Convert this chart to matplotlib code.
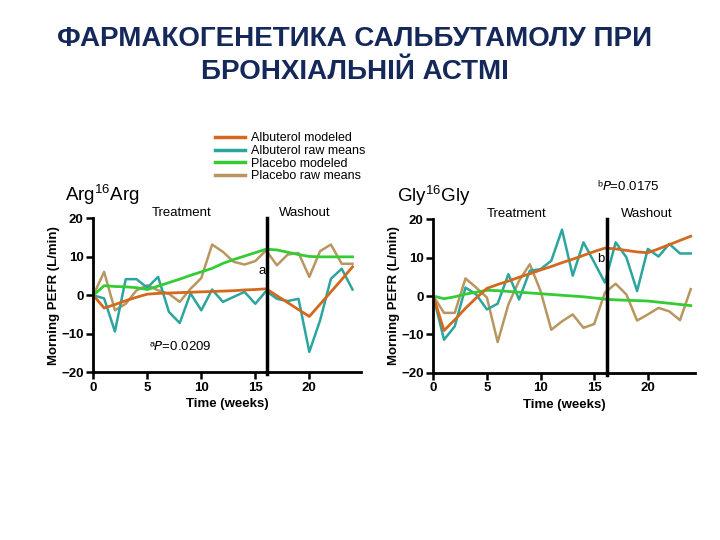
import matplotlib.pyplot as plt

plt.rcParams['font.family'] = ['Liberation Sans', 'DejaVu Sans']

weeks = list(range(25))

# Arg16Arg
arg_alb_raw = [0, -0.8, -9.4, 4.2, 4.2, 2.0, 4.8, -4.3, -7.2, 0.5, -3.9, 1.5, -1.7,
               -0.4, 0.9, -2.2, 1.1, -0.9, -1.5, -0.9, -14.7, -6.5, 4.3, 6.9, 1.5]
arg_pla_raw = [0, 6.1, -3.9, -2.2, 1.3, 2.6, 1.3, 0.4, -1.7, 1.7, 4.5, 13.2, 11.3,
               8.7, 8.0, 8.9, 11.7, 7.8, 10.6, 11.0, 4.8, 11.5, 13.2, 8.2, 8.2]
arg_alb_mod = [0, -3.3, -2.4, -1.4, -0.5, 0.3, 0.5, 0.6, 0.7, 0.8, 0.9, 1.0, 1.1,
               1.2, 1.4, 1.5, 1.7, -0.1, -1.9, -3.7, -5.5, -2.3, 0.9, 4.1, 7.4]
arg_pla_mod = [0, 2.5, 2.3, 2.2, 2.0, 1.5, 2.4, 3.3, 4.2, 5.2, 6.1, 7.0, 8.3,
               9.3, 10.2, 11.1, 12.0, 11.8, 11.2, 10.6, 10.1, 10.0, 10.0, 10.0, 10.0]

# Gly16Gly
gly_alb_raw = [0, -11.4, -7.9, 2.2, 0.4, -3.5, -2.0, 5.7, -0.9, 6.6, 7.0, 9.2, 17.3,
               5.3, 14.0, 8.8, 3.5, 14.0, 10.1, 1.3, 12.3, 10.3, 13.6, 11.1, 11.1]
gly_pla_raw = [0, -4.4, -4.4, 4.6, 2.2, -0.4, -12.0, -2.2, 4.0, 8.3, 1.3, -8.8, -6.6,
               -4.8, -8.3, -7.3, 0.9, 3.2, 0.4, -6.4, -4.8, -3.1, -4.0, -6.3, 1.8]
gly_alb_mod = [0, -9.0, -6.2, -3.2, -0.5, 2.0, 3.0, 3.9, 4.9, 5.8, 6.8, 7.7, 8.7,
               9.6, 10.6, 11.6, 12.5, 12.3, 11.9, 11.5, 11.3, 12.3, 13.4, 14.5, 15.6]
gly_pla_mod = [0, -0.7, -0.2, 0.5, 1.0, 1.5, 1.4, 1.2, 1.0, 0.8, 0.6, 0.4, 0.2,
               0.0, -0.2, -0.5, -0.8, -1.0, -1.1, -1.2, -1.3, -1.6, -1.9, -2.2, -2.5]

washout_start = [16.1, 16.2]
labels = ["Albuterol modeled", "Albuterol raw means", "Placebo modeled", "Placebo raw means"]
colors = ["#D2691E", "#2BA59E", "#33CC33", "#B99660"]

fig = plt.figure(figsize=(7.2, 5.4), dpi=100)
fig.text(0.493, 0.928, "ФАРМАКОГЕНЕТИКА САЛЬБУТАМОЛУ ПРИ", ha='center', va='center',
         fontsize=20, fontweight='bold', color='#14285A')
fig.text(0.493, 0.866, "БРОНХІАЛЬНІЙ АСТМІ", ha='center', va='center',
         fontsize=20, fontweight='bold', color='#14285A')

ax1 = fig.add_axes([0.1296, 0.3106, 0.372, 0.285])
ax2 = fig.add_axes([0.6018, 0.3098, 0.3635, 0.284])

panels = [
    (ax1, "Arg$^{\\mathregular{16}}$Arg", [arg_alb_mod, arg_alb_raw, arg_pla_mod, arg_pla_raw],
     24.8, -2.6, 8.2, 19.6),
    (ax2, "Gly$^{\\mathregular{16}}$Gly", [gly_alb_mod, gly_alb_raw, gly_pla_mod, gly_pla_raw],
     24.4, -3.4, 7.8, 19.9),
]

handles = []
for i, (ax, name, series, xmax, name_x, treat_x, wash_x) in enumerate(panels):
    order = [3, 1, 2, 0]
    for k in order:
        lw = 2.0 if k in (0, 2) else 1.8
        ln, = ax.plot(weeks, series[k], color=colors[k], lw=lw, label=labels[k])
        if i == 0:
            handles.append((k, ln))
    ax.plot([washout_start[i]] * 2, [-20.5, 20], color='black', lw=2.5, clip_on=False)
    ax.set_xlim(0, xmax)
    ax.set_ylim(-20, 20)
    ax.set_xticks([0, 5, 10, 15, 20])
    ax.set_yticks([-20, -10, 0, 10, 20])
    ax.set_yticklabels(["\u221220", "\u221210", "0", "10", "20"])
    for s in ['top', 'right']:
        ax.spines[s].set_visible(False)
    for s in ['left', 'bottom']:
        ax.spines[s].set_linewidth(2)
    ax.tick_params(direction='out', length=5, width=1.8, labelsize=9.5, pad=2)
    for t in ax.get_xticklabels() + ax.get_yticklabels():
        t.set_fontweight('bold')
    ax.set_xlabel("Time (weeks)", fontsize=9.5, fontweight='bold', labelpad=3)
    ax.set_ylabel("Morning PEFR (L/min)", fontsize=9.5, fontweight='bold', labelpad=1)
    ax.text(treat_x, 21.3, "Treatment", ha='center', va='center', fontsize=9.5)
    ax.text(wash_x, 21.3, "Washout", ha='center', va='center', fontsize=9.5)
    ax.text(name_x, 26.2, name, ha='left', va='center', fontsize=13.5, clip_on=False)

ax1.text(15.6, 6.3, "a", ha='center', va='center', fontsize=9.5)
ax1.text(5.2, -13.3, "ᵃ$P$=0.0209", ha='left', va='center', fontsize=9.5)
ax2.text(15.6, 9.6, "b", ha='center', va='center', fontsize=9.5)
ax2.text(15.3, 28.7, "ᵇ$P$=0.0175", ha='left', va='center', fontsize=9.5, clip_on=False)

handles = [h for _, h in sorted(handles, key=lambda x: x[0])]
leg = fig.legend(handles, labels, loc='upper left', bbox_to_anchor=(0.298, 0.755),
                 frameon=False, fontsize=9, handlelength=2.4, handletextpad=0.5,
                 labelspacing=0.05, borderpad=0, borderaxespad=0)
for h in leg.legend_handles:
    h.set_linewidth(2.5)

fig.savefig("out.png", dpi=100)
